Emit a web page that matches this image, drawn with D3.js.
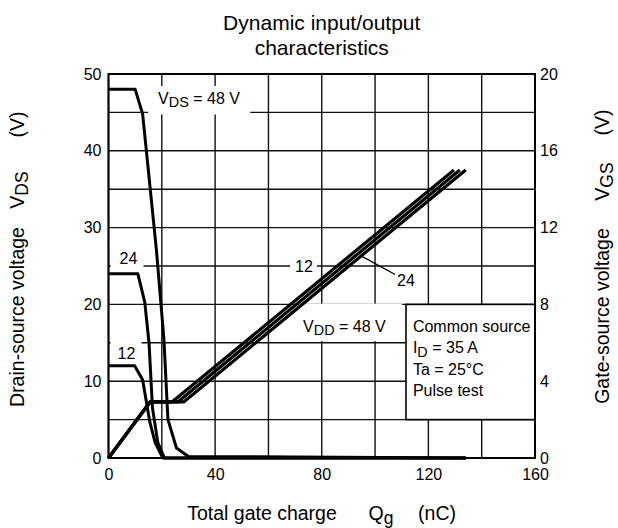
<!DOCTYPE html>
<html>
<head>
<meta charset="utf-8">
<script src="https://cdn.jsdelivr.net/npm/d3@7"></script>
<style>
body { margin: 0; background: #fff; }
svg text { font-family: "Liberation Sans", Arial, sans-serif; fill: #000; white-space: pre; }
</style>
</head>
<body>
<div id="chart"></div>
<script>
// tick labels
var qTicks = [0, 40, 80, 120, 160];
var vdsTicks = [0, 10, 20, 30, 40, 50];
var vgsTicks = [0, 4, 8, 12, 16, 20];

// drain-source voltage curves, [Qg (nC), VDS (V)]
var vds48 = [[0, 48], [10, 48], [12.8, 44.8], [18, 27], [20.8, 15.4], [22.3, 5], [25.5, 1.3], [30, 0.2], [134, 0]];
var vds24 = [[0, 24], [11, 24], [13.6, 20.3], [15.2, 15], [16.5, 6.5], [18.5, 2], [21, 0], [134, 0]];
var vds12 = [[0, 12], [9.8, 12], [12.8, 10.2], [15.5, 4.7], [17.5, 2], [20.4, 0], [134, 0]];

// gate-source voltage curves, [Qg (nC), VGS (V)]
var vgs12 = [[0, 0], [15.6, 2.92], [23.8, 2.92], [129.6, 15]];
var vgs24 = [[0, 0], [15.6, 2.92], [26, 2.92], [131.8, 15]];
var vgs48 = [[0, 0], [15.6, 2.92], [28.2, 2.92], [134, 15]];

var svgWidth = 618;
var svgHeight = 528;

var margin = {
  top: 74,
  right: 83,
  bottom: 70,
  left: 108.5
};

var width = svgWidth - margin.left - margin.right;
var height = svgHeight - margin.top - margin.bottom;
var font = 16;

var svg = d3.select("#chart")
  .append("svg")
  .attr("width", svgWidth)
  .attr("height", svgHeight);

var chartGroup = svg.append("g")
  .attr("transform", `translate(${margin.left}, ${margin.top})`);

var x = d3.scaleLinear().domain([0, 160]).range([0, width]);
var yL = d3.scaleLinear().domain([0, 50]).range([height, 0]);
var yR = d3.scaleLinear().domain([0, 20]).range([height, 0]);

var gridLayer = chartGroup.append("g");
var bgLayer = chartGroup.append("g");
var boxLayer = chartGroup.append("g");
var curveLayer = chartGroup.append("g");
var textLayer = chartGroup.append("g");

// grid
gridLayer.selectAll("line.v")
  .data(x.ticks(8))
  .enter()
  .append("line")
  .attr("x1", d => x(d)).attr("x2", d => x(d))
  .attr("y1", 0).attr("y2", height)
  .attr("stroke", "#111").attr("stroke-width", 1.4);

gridLayer.selectAll("line.h")
  .data(yL.ticks(10))
  .enter()
  .append("line")
  .attr("x1", 0).attr("x2", width)
  .attr("y1", d => yL(d)).attr("y2", d => yL(d))
  .attr("stroke", "#111").attr("stroke-width", 1.4);

// axes (labels only)
function styleAxis(g) {
  g.select(".domain").remove();
  g.attr("font-size", font).attr("font-family", "Liberation Sans, Arial, sans-serif");
  g.selectAll("text").attr("fill", "#000");
}

chartGroup.append("g")
  .attr("transform", `translate(0, ${height})`)
  .call(d3.axisBottom(x).tickValues(qTicks).tickSize(0).tickPadding(10.6))
  .call(styleAxis);

chartGroup.append("g")
  .call(d3.axisLeft(yL).tickValues(vdsTicks).tickSize(0).tickPadding(7))
  .call(styleAxis);

chartGroup.append("g")
  .attr("transform", `translate(${width}, 0)`)
  .call(d3.axisRight(yR).tickValues(vgsTicks).tickSize(0).tickPadding(5))
  .call(styleAxis);

// text with subscripts, optional white background
function label(px, py, anchor, parts, pad) {
  var t = textLayer.append("text")
    .attr("x", px)
    .attr("y", py)
    .attr("text-anchor", anchor)
    .attr("font-size", font);
  var prevSub = false;
  parts.forEach(function(p) {
    var s = t.append("tspan").text(p[0]);
    if (p[1]) {
      s.attr("font-size", font * 0.9).attr("dy", 3.5);
    } else if (prevSub) {
      s.attr("dy", -3.5);
    }
    prevSub = p[1];
  });
  if (pad) {
    var b = t.node().getBBox();
    bgLayer.append("rect")
      .attr("x", b.x - pad[0])
      .attr("y", b.y - pad[2])
      .attr("width", b.width + pad[0] + pad[1])
      .attr("height", b.height + pad[2] + pad[3])
      .attr("fill", "#fff");
  }
  return t;
}

label(x(18.6), yL(46.1), "start", [["V", false], ["DS", true], [" = 48 V", false]], [10, 10, 4, 4]);
label(x(7.5), yL(25.3), "middle", [["24", false]], [9, 6, 1, 1]);
label(x(6.75), yL(12.9), "middle", [["12", false]], [7, 6, 4, 1]);
label(x(73.3), yR(9.71), "middle", [["12", false]], [5, 4, 1, 1]);
label(x(111.6), yR(8.98), "middle", [["24", false]], null);
label(x(73), yR(6.58), "start", [["V", false], ["DD", true], [" = 48 V", false]], [4, 16, 14, 3]);

// leader line for the 24 V gate curve
curveLayer.append("line")
  .attr("x1", x(95.1)).attr("y1", yR(10.5))
  .attr("x2", x(107.5)).attr("y2", yR(9.56))
  .attr("stroke", "#000").attr("stroke-width", 1.3);

// condition box
boxLayer.append("rect")
  .attr("x", x(111.6))
  .attr("y", yR(8))
  .attr("width", x(160) - x(111.6))
  .attr("height", yR(2) - yR(8))
  .attr("fill", "#fff")
  .attr("stroke", "#000")
  .attr("stroke-width", 1.6);

var boxX = x(114.2);
label(boxX, yR(6.58), "start", [["Common source", false]], null);
label(boxX, yR(6.58) + 21.5, "start", [["I", false], ["D", true], [" = 35 A", false]], null);
label(boxX, yR(6.58) + 43, "start", [["Ta = 25°C", false]], null);
label(boxX, yR(6.58) + 64.5, "start", [["Pulse test", false]], null);

// frame
chartGroup.append("rect")
  .attr("x", 0).attr("y", 0)
  .attr("width", width).attr("height", height)
  .attr("fill", "none")
  .attr("stroke", "#000")
  .attr("stroke-width", 2);

// curves
var lineL = d3.line().x(d => x(d[0])).y(d => yL(d[1]));
var lineR = d3.line().x(d => x(d[0])).y(d => yR(d[1]));

[vds12, vds24, vds48].forEach(function(c) {
  curveLayer.append("path")
    .attr("d", lineL(c))
    .attr("fill", "none")
    .attr("stroke", "#000")
    .attr("stroke-width", 3)
    .attr("stroke-linejoin", "round");
});

[vgs12, vgs24, vgs48].forEach(function(c) {
  curveLayer.append("path")
    .attr("d", lineR(c))
    .attr("fill", "none")
    .attr("stroke", "#000")
    .attr("stroke-width", 3.2)
    .attr("stroke-linejoin", "round");
});

// title
svg.append("text")
  .attr("x", margin.left + width / 2).attr("y", 30)
  .attr("text-anchor", "middle").attr("font-size", 21)
  .text("Dynamic input/output");
svg.append("text")
  .attr("x", margin.left + width / 2).attr("y", 55)
  .attr("text-anchor", "middle").attr("font-size", 21)
  .text("characteristics");

// axis titles
function axisTitle(tx, ty, rot, parts) {
  var t = svg.append("text")
    .attr("transform", `translate(${tx}, ${ty}) rotate(${rot})`)
    .attr("text-anchor", "middle")
    .attr("font-size", 19.5);
  var prevSub = false;
  parts.forEach(function(p) {
    var s = t.append("tspan").text(p[0]);
    if (p[1]) {
      s.attr("font-size", 17.5).attr("dy", 4);
    } else if (prevSub) {
      s.attr("dy", -4);
    }
    prevSub = p[1];
  });
}

axisTitle(24, 317, -90, [["Drain-source voltage", false]]);
axisTitle(24, 190, -90, [["V", false], ["DS", true]]);
axisTitle(24, 124.5, -90, [["(V)", false]]);

axisTitle(609, 316, -90, [["Gate-source voltage", false]]);
axisTitle(609, 181.5, -90, [["V", false], ["GS", true]]);
axisTitle(609, 122.5, -90, [["(V)", false]]);

axisTitle(262, 520, 0, [["Total gate charge", false]]);
axisTitle(381, 520, 0, [["Q", false], ["g", true]]);
axisTitle(437, 520, 0, [["(nC)", false]]);
</script>
</body>
</html>
